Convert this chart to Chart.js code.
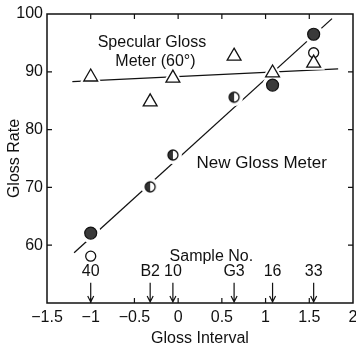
<!DOCTYPE html>
<html>
<head>
<meta charset="utf-8">
<script src="https://cdn.jsdelivr.net/npm/chart.js@4"></script>
<style>
  html, body { margin: 0; padding: 0; background: #fff; }
  #wrap { width: 356px; height: 349px; }
</style>
</head>
<body>
<div id="wrap"><canvas id="chart" width="356" height="349"></canvas></div>
<script>
// Samples and their gloss interval
const sampleNames = ["40", "B2", "10", "G3", "16", "33"];
const glossInterval = [-1, -0.32, -0.06, 0.64, 1.08, 1.55];

// New gloss meter readings (filled / half-filled / open markers)
const newMeterFilled = [62.1, null, null, null, 87.7, 96.5];
const newMeterHalf = [null, 70.1, 75.6, 85.6, null, null];
const newMeterOpen = [58.1, null, null, null, null, 93.3];

// Specular gloss meter (60°) readings
const specularRate = [89.1, 84.8, 88.9, 92.7, 89.8, 91.5];

// Fitted lines (end points)
const newFitX = [-1.19, 1.76];
const newFitY = [58.7, 99.2];
const specFitX = [-1.21, 1.83];
const specFitY = [88.3, 90.5];

// Axis ticks
const xTicks = [-1.5, -1, -0.5, 0, 0.5, 1, 1.5, 2];
const yTicks = [60, 70, 80, 90, 100];

const FONT = "'Liberation Sans', Arial, sans-serif";
const INK = "#111";

function points(xs, ys) {
    const out = [];
    xs.forEach((x, i) => {
        if (ys[i] !== null) out.push({ x: x, y: ys[i] });
    });
    return out;
}

// half filled circle marker (left half dark)
function halfCircle(r) {
    const c = document.createElement("canvas");
    const s = Math.ceil(r * 2 + 4);
    c.width = s; c.height = s;
    const g = c.getContext("2d");
    const m = s / 2;
    g.fillStyle = "#fff";
    g.beginPath(); g.arc(m, m, r, 0, Math.PI * 2); g.fill();
    g.fillStyle = "#333";
    g.beginPath(); g.arc(m, m, r, Math.PI / 2, Math.PI * 1.5); g.closePath(); g.fill();
    g.strokeStyle = INK; g.lineWidth = 1.3;
    g.beginPath(); g.arc(m, m, r, 0, Math.PI * 2); g.stroke();
    return c;
}

const decorPlugin = {
    id: "decor",
    afterDraw(chart) {
        const { ctx, chartArea: a, scales: { x, y } } = chart;
        ctx.save();
        ctx.strokeStyle = INK;
        ctx.fillStyle = INK;
        ctx.lineWidth = 1.5;
        ctx.strokeRect(a.left, a.top, a.right - a.left, a.bottom - a.top);

        // inward tick marks on all four sides
        ctx.lineWidth = 1.2;
        const tl = 5;
        xTicks.slice(1, -1).forEach(v => {
            const px = x.getPixelForValue(v);
            ctx.beginPath();
            ctx.moveTo(px, a.bottom); ctx.lineTo(px, a.bottom - tl);
            ctx.moveTo(px, a.top); ctx.lineTo(px, a.top + tl);
            ctx.stroke();
        });
        yTicks.slice(0, -1).forEach(v => {
            const py = y.getPixelForValue(v);
            ctx.beginPath();
            ctx.moveTo(a.left, py); ctx.lineTo(a.left + tl, py);
            ctx.moveTo(a.right, py); ctx.lineTo(a.right - tl, py);
            ctx.stroke();
        });

        // annotations
        ctx.font = "16px " + FONT;
        ctx.textAlign = "center";
        ctx.textBaseline = "middle";
        ctx.fillText("Specular Gloss", x.getPixelForValue(-0.3), y.getPixelForValue(95));
        ctx.fillText("Meter (60°)", x.getPixelForValue(-0.26), y.getPixelForValue(91.7));
        ctx.fillText("Sample No.", x.getPixelForValue(0.38), y.getPixelForValue(58.1));
        ctx.font = "17px " + FONT;
        ctx.textAlign = "left";
        ctx.fillText("New Gloss Meter", x.getPixelForValue(0.21), y.getPixelForValue(74.2));

        // sample labels with arrows down to the axis
        ctx.font = "16px " + FONT;
        ctx.textAlign = "center";
        const labelY = y.getPixelForValue(55.4);
        const arrowTop = y.getPixelForValue(53.5);
        sampleNames.forEach((name, i) => {
            const px = x.getPixelForValue(glossInterval[i]);
            ctx.fillText(name, px, labelY);
            ctx.lineWidth = 1.2;
            ctx.beginPath();
            ctx.moveTo(px, arrowTop); ctx.lineTo(px, a.bottom - 1);
            ctx.moveTo(px - 3, a.bottom - 7); ctx.lineTo(px, a.bottom - 1); ctx.lineTo(px + 3, a.bottom - 7);
            ctx.stroke();
        });
        ctx.restore();
    }
};

const halo = { pointBackgroundColor: "#fff", pointBorderColor: "#fff", pointBorderWidth: 2, showLine: false, order: 2 };

new Chart(document.getElementById("chart"), {
    type: "scatter",
    data: {
        datasets: [
            { data: points(newFitX, newFitY), showLine: true, borderColor: INK, borderWidth: 1.3, pointRadius: 0, order: 3 },
            { data: points(specFitX, specFitY), showLine: true, borderColor: INK, borderWidth: 1.3, pointRadius: 0, order: 3 },
            Object.assign({ data: points(glossInterval, specularRate), pointStyle: "triangle", pointRadius: 11 }, halo),
            Object.assign({ data: points(glossInterval, newMeterFilled), pointStyle: "circle", pointRadius: 9 }, halo),
            Object.assign({ data: points(glossInterval, newMeterHalf), pointStyle: "circle", pointRadius: 8 }, halo),
            { data: points(glossInterval, specularRate), pointStyle: "triangle", pointRadius: 8,
              pointBackgroundColor: "#fff", pointBorderColor: INK, pointBorderWidth: 1.3, order: 1 },
            { data: points(glossInterval, newMeterOpen), pointStyle: "circle", pointRadius: 5,
              pointBackgroundColor: "#fff", pointBorderColor: INK, pointBorderWidth: 1.3, order: 1 },
            { data: points(glossInterval, newMeterFilled), pointStyle: "circle", pointRadius: 6,
              pointBackgroundColor: "#3a3a3a", pointBorderColor: INK, pointBorderWidth: 1.2, order: 1 },
            { data: points(glossInterval, newMeterHalf), pointStyle: halfCircle(5), order: 1 }
        ]
    },
    options: {
        responsive: false,
        animation: false,
        events: [],
        layout: { autoPadding: false, padding: { top: 14, right: 3, left: 0, bottom: 0 } },
        plugins: { legend: { display: false }, tooltip: { enabled: false } },
        scales: {
            x: {
                type: "linear", min: -1.5, max: 2,
                afterFit: s => { s.height = 46; s.paddingLeft = 0; s.paddingRight = 0; },
                afterBuildTicks: s => { s.ticks = xTicks.map(v => ({ value: v })); },
                grid: { display: false, drawTicks: false },
                border: { display: false },
                ticks: {
                    padding: 5, color: INK, font: { family: FONT, size: 16 },
                    maxRotation: 0, autoSkip: false,
                    callback: v => String(v).replace("-", "\u2212")
                },
                title: { display: true, text: "Gloss Interval", color: INK, font: { family: FONT, size: 16 }, padding: { top: 0, bottom: 1 } }
            },
            y: {
                type: "linear", min: 50, max: 100,
                afterFit: s => { s.width = 47; s.paddingTop = 0; s.paddingBottom = 0; },
                afterBuildTicks: s => { s.ticks = yTicks.map(v => ({ value: v })); },
                grid: { display: false, drawTicks: false },
                border: { display: false },
                ticks: { padding: 4, color: INK, font: { family: FONT, size: 16 } },
                title: { display: true, text: "Gloss Rate", color: INK, font: { family: FONT, size: 16 }, padding: { top: 5, bottom: 0 } }
            }
        }
    },
    plugins: [decorPlugin]
});
</script>
</body>
</html>
